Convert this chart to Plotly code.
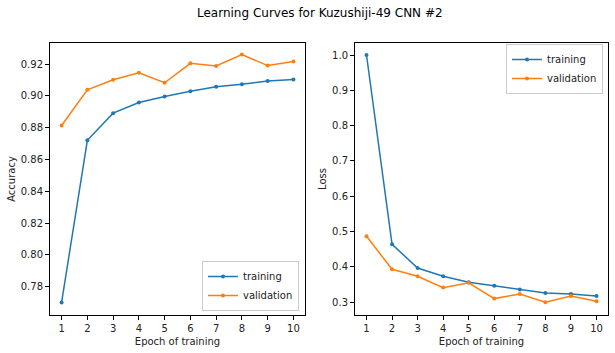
import plotly.graph_objects as go

epochs = [1, 2, 3, 4, 5, 6, 7, 8, 9, 10]
train_acc = [0.7701, 0.8720, 0.8891, 0.8958, 0.8996, 0.9029, 0.9057, 0.9072, 0.9093, 0.9103]
val_acc = [0.8813, 0.9038, 0.9101, 0.9145, 0.9082, 0.9204, 0.9187, 0.9259, 0.9190, 0.9215]
train_loss = [1.000, 0.464, 0.397, 0.3736, 0.3566, 0.347, 0.336, 0.3264, 0.3236, 0.318]
val_loss = [0.4868, 0.3934, 0.3736, 0.3415, 0.355, 0.3104, 0.3236, 0.300, 0.318, 0.303]
acc_ticks = [0.78, 0.80, 0.82, 0.84, 0.86, 0.88, 0.90, 0.92]
loss_ticks = [0.3, 0.4, 0.5, 0.6, 0.7, 0.8, 0.9, 1.0]

BLUE = "#1f77b4"
ORANGE = "#ff7f0e"
FONT = "DejaVu Sans"

fig = go.Figure()

def add(x, y, name, color, xa, ya, legend):
    fig.add_trace(go.Scatter(
        x=x, y=y, name=name, mode="lines+markers",
        line=dict(color=color, width=1.5),
        marker=dict(color=color, size=4),
        xaxis=xa, yaxis=ya, legend=legend,
    ))

add(epochs, train_acc, "training", BLUE, "x", "y", "legend")
add(epochs, val_acc, "validation", ORANGE, "x", "y", "legend")
add(epochs, train_loss, "training", BLUE, "x2", "y2", "legend2")
add(epochs, val_loss, "validation", ORANGE, "x2", "y2", "legend2")

axis_common = dict(
    showline=True, mirror=True, linecolor="black", linewidth=1,
    ticks="outside", ticklen=4, tickcolor="black", tickwidth=1,
    showgrid=False, zeroline=False,
    tickfont=dict(family=FONT, size=10, color="#222"),
)

ydom = [38 / 353, 310 / 353]

fig.update_layout(
    width=615, height=353,
    margin=dict(l=0, r=0, t=0, b=0),
    paper_bgcolor="white", plot_bgcolor="white",
    font=dict(family=FONT, size=10, color="#222"),
    showlegend=True,
    title=dict(text="Learning Curves for Kuzushiji-49 CNN #2", x=0.52, xanchor="center",
               y=1 - 13 / 353, yanchor="middle", font=dict(family=FONT, size=12, color="black")),
    xaxis=dict(domain=[50 / 615, 305 / 615], range=[0.55, 10.45], tickvals=epochs,
               title=dict(text="Epoch of training", font=dict(family=FONT, size=10), standoff=4),
               anchor="y", **axis_common),
    yaxis=dict(domain=ydom, range=[0.7622, 0.9332], tickvals=acc_ticks,
               tickformat=".2f",
               title=dict(text="Accuracy", font=dict(family=FONT, size=10), standoff=3),
               anchor="x", **axis_common),
    xaxis2=dict(domain=[355 / 615, 608 / 615], range=[0.55, 10.45], tickvals=epochs,
                title=dict(text="Epoch of training", font=dict(family=FONT, size=10), standoff=4),
                anchor="y2", **axis_common),
    yaxis2=dict(domain=ydom, range=[0.264, 1.034], tickvals=loss_ticks,
                tickformat=".1f",
                title=dict(text="Loss", font=dict(family=FONT, size=10), standoff=3),
                anchor="x2", **axis_common),
    legend=dict(x=299 / 615, y=(353 - 311) / 353, xanchor="right", yanchor="bottom",
                bgcolor="white", bordercolor="#cccccc", borderwidth=1,
                font=dict(family=FONT, size=10), tracegroupgap=0),
    legend2=dict(x=603 / 615, y=(353 - 44) / 353, xanchor="right", yanchor="top",
                 bgcolor="white", bordercolor="#cccccc", borderwidth=1,
                 font=dict(family=FONT, size=10), tracegroupgap=0),
)

fig.write_html("out.html")
